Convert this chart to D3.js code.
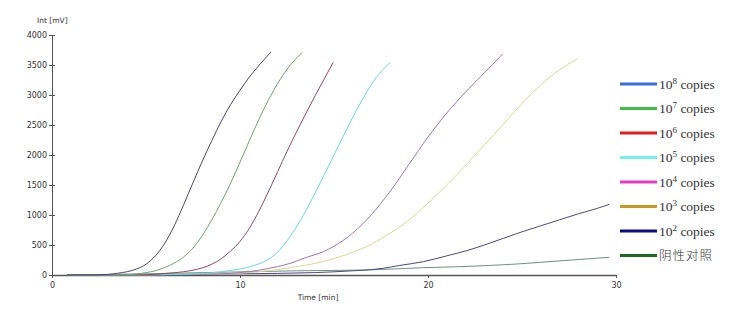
<!DOCTYPE html>
<html>
<head>
<meta charset="utf-8">
<script src="https://cdn.jsdelivr.net/npm/d3@7"></script>
<style>
  body { margin: 0; background: #fff; }
  svg { display: block; }
</style>
</head>
<body>
<svg id="chart" width="750" height="318"></svg>
<script>
// curves: [time min, Int mV]
const curve8 = [[0.8,0],[2,2],[3,10],[3.5,30],[4,55],[4.5,100],[5,180],[5.5,320],[6,530],[6.5,820],[7,1170],[7.5,1540],[8,1900],[8.5,2240],[9,2560],[9.5,2840],[10,3080],[10.5,3300],[11,3490],[11.65,3717]]
const curve7 = [[0.8,0],[4,5],[5,40],[5.5,70],[6,125],[6.5,200],[7,300],[7.5,450],[8,660],[8.5,920],[9,1210],[9.5,1530],[10,1880],[10.5,2240],[11,2590],[11.5,2910],[12,3190],[12.5,3430],[13.3,3705]]
const curve6 = [[0.8,0],[5,5],[6,25],[7,55],[7.5,80],[8,120],[8.5,180],[9,270],[9.5,400],[10,560],[10.5,780],[11,1060],[11.5,1380],[12,1720],[12.5,2060],[13,2380],[13.5,2690],[14,2990],[14.5,3280],[14.96,3545]]
const curve5 = [[0.8,0],[6,5],[8,25],[9,55],[9.64,83],[10,100],[10.5,135],[11,185],[11.5,260],[12,380],[12.5,570],[13,800],[13.5,1070],[14,1370],[14.5,1680],[15,2000],[15.5,2320],[16,2630],[16.5,2920],[17,3180],[17.5,3390],[17.98,3539]]
const curve4 = [[0.8,0],[8,10],[10,40],[11,80],[12,140],[12.66,194],[13.5,290],[14.43,389],[15,480],[16,700],[17,1010],[18,1400],[19,1850],[20,2300],[21,2700],[22,3050],[23,3370],[23.97,3683]]
const curve3 = [[0.8,0],[8,10],[10,30],[11,55],[12,90],[12.66,122],[13.55,167],[14.5,230],[15.32,305],[16,380],[17,515],[18,700],[18.87,889],[19.7,1110],[20.64,1390],[21.5,1660],[22.3,1930],[23,2170],[24,2510],[25,2860],[26,3170],[27,3420],[27.96,3600]]
const curve2 = [[0.8,0],[10,20],[14,40],[16,70],[17,90],[17.6,111],[18.5,160],[19.75,222],[21,320],[22,400],[23,500],[24,610],[25,720],[26,820],[27,920],[28,1020],[29,1110],[29.65,1178]]
const curveNeg = [[0.8,0],[5,20],[8,40],[10.5,55],[13,70],[16.7,83],[19.75,122],[21.7,139],[24.7,183],[27,235],[29.65,295]]

const seriesData = [curve8, curve7, curve6, curve5, curve4, curve3, curve2, curveNeg]
const seriesColors = ["#4e4472", "#72a274", "#8c4c62", "#6fd8d8", "#a276b0", "#d9d996", "#4c4a7a", "#6e9282"]

const legendExp = ["8", "7", "6", "5", "4", "3", "2", null]
const legendColors = ["#3b6fd6", "#3fbf44", "#e81c1c", "#74f0f0", "#e83cc2", "#c9981f", "#0b0b88", "#1b6b1e"]
const negLabel = "阴性对照"

const xTicks = [0, 10, 20, 30]
const yTicks = [0, 500, 1000, 1500, 2000, 2500, 3000, 3500, 4000]

const svg = d3.select("#chart")
const x = d3.scaleLinear().domain([0, 30]).range([52, 616])
const y = d3.scaleLinear().domain([0, 4000]).range([275, 35])

const axisFont = "'DejaVu Sans', sans-serif"

// y axis
const gy = svg.append("g").attr("transform", "translate(52,0)")
    .call(d3.axisLeft(y).tickValues(yTicks).tickSize(3).tickSizeOuter(0).tickFormat(d3.format("d")))
gy.select(".domain").attr("stroke", "#555")
gy.selectAll(".tick line").attr("stroke", "#555").attr("x2", 3).attr("x1", -3)
gy.selectAll(".tick text").attr("x", -5).attr("font-size", 8).attr("font-family", axisFont).attr("fill", "#333")

// x axis
const gx = svg.append("g").attr("transform", "translate(0,275)")
    .call(d3.axisBottom(x).tickValues(xTicks).tickSize(3).tickSizeOuter(0))
gx.select(".domain").attr("stroke", "#555").attr("stroke-width", 1.5)
gx.selectAll(".tick line").attr("stroke", "#555")
gx.selectAll(".tick text").attr("y", 7).attr("font-size", 8).attr("font-family", axisFont).attr("fill", "#333")

svg.append("text").attr("x", 37).attr("y", 23).attr("font-size", 7.5).attr("font-family", axisFont)
    .attr("fill", "#333").text("Int [mV]")
svg.append("text").attr("x", 318).attr("y", 300).attr("text-anchor", "middle").attr("font-size", 7.5)
    .attr("font-family", axisFont).attr("fill", "#333").text("Time [min]")

// curves
const line = d3.line().x(d => x(d[0])).y(d => y(d[1])).curve(d3.curveMonotoneX)
svg.append("g").selectAll("path")
    .data(seriesData.slice().reverse())
    .join("path")
    .attr("fill", "none")
    .attr("stroke", (d, i) => seriesColors[seriesData.length - 1 - i])
    .attr("stroke-width", 1)
    .attr("d", line)

// legend
const legend = svg.append("g")
const rows = legend.selectAll("g").data(legendExp).join("g")
    .attr("transform", (d, i) => `translate(620,${84 + i * 24.5})`)
rows.append("line").attr("x1", 0).attr("x2", 37).attr("y1", 0).attr("y2", 0)
    .attr("stroke", (d, i) => legendColors[i]).attr("stroke-width", 3)
rows.each(function (d) {
    const t = d3.select(this).append("text").attr("x", 39).attr("y", 4.5).attr("fill", "#333")
    if (d === null) {
        t.attr("font-family", "'Noto Sans CJK SC', sans-serif").attr("font-size", 12.5)
            .attr("font-weight", 300).attr("letter-spacing", 1).text(negLabel)
    } else {
        t.attr("font-family", "'Liberation Serif', serif").attr("font-size", 13.5)
        t.append("tspan").text("10")
        t.append("tspan").attr("font-size", 9).attr("dy", -5).text(d)
        t.append("tspan").attr("dy", 5).text(" copies")
    }
})
</script>
</body>
</html>
